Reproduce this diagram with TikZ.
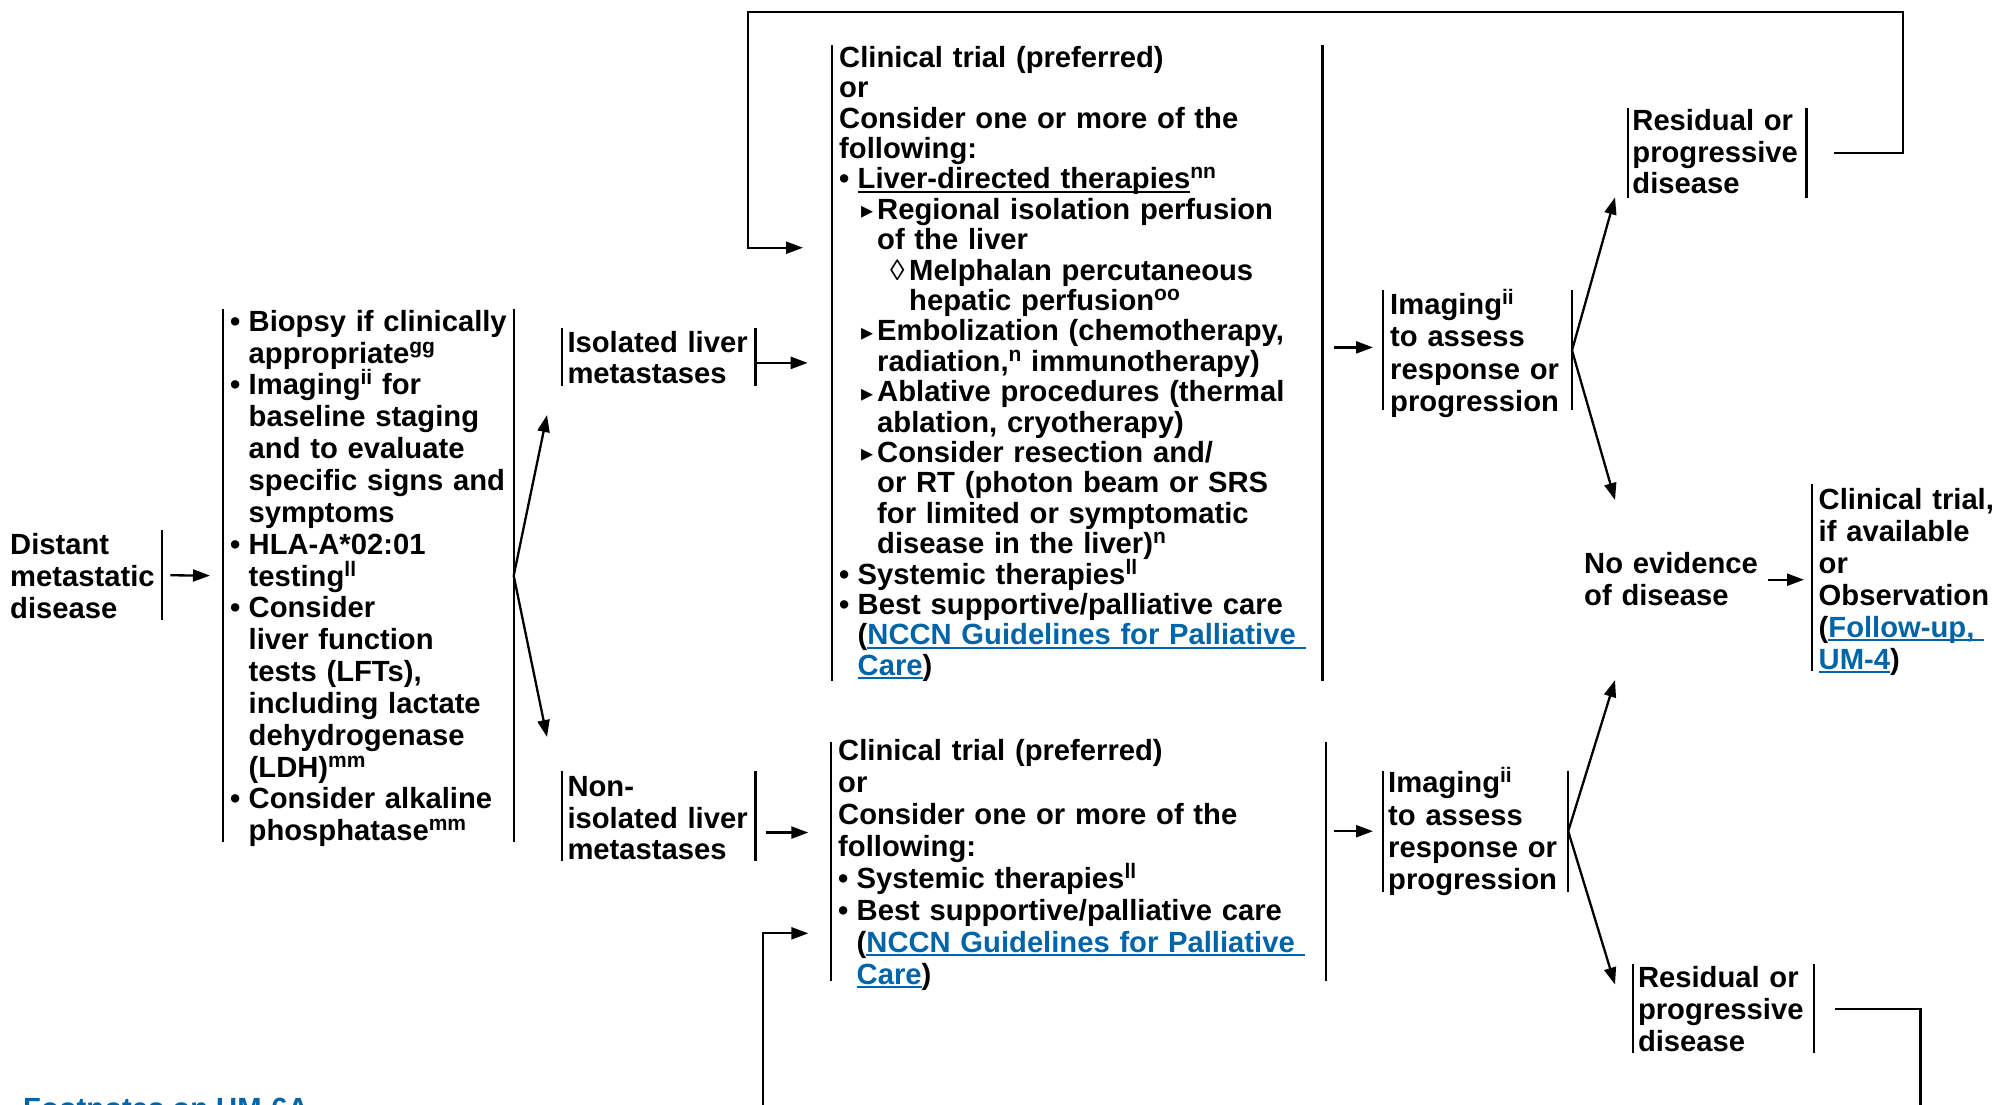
\documentclass[tikz,border=0pt]{standalone}
\usepackage{fontspec}
\setmainfont{Liberation Sans}
\newfontfamily\dvs{DejaVu Sans}
\usetikzlibrary{arrows.meta}
\definecolor{link}{RGB}{0,101,168}
\newcommand\spx[1]{\raisebox{0.34em}{\fontsize{21}{21}\selectfont #1}}
\newcommand\ulx[1]{\leavevmode\setbox0=\hbox{#1}\rlap{\rule[-3.8pt]{\wd0}{1.7pt}}\box0}
\newcommand\lk[1]{\leavevmode{\color{link}\ulx{#1}}}
\newcommand\bA{\makebox[18.5pt][l]{•}}
\newcommand\cA{\hspace*{18.5pt}}
\newcommand\bB{\hspace*{22pt}\makebox[16pt][l]{\raisebox{0.5pt}{\dvs\mdseries\fontsize{24}{24}\selectfont ▸}}}
\newcommand\cB{\hspace*{38pt}}
\newcommand\bC{\hspace*{51pt}\makebox[19pt][l]{\mdseries ◊}}
\newcommand\cC{\hspace*{70pt}}
\begin{document}
\begin{tikzpicture}[x=1pt,y=-1pt,
  bx/.style={inner sep=0pt, anchor=north west, align=left},
  lead/.style={font=\bfseries\fontsize{29.2}{#1}\selectfont},
  pad/.style={execute at begin node={\leftskip=#1\relax\rightskip=-40pt plus 1fil\relax\lineskiplimit=-60pt\relax}},
  barline/.style={draw, line width=2.2pt},
  bars/.style={append after command={(\tikzlastnode.north west) edge[barline] (\tikzlastnode.south west) (\tikzlastnode.north east) edge[barline] (\tikzlastnode.south east)}},
  rbar/.style={append after command={(\tikzlastnode.north east) edge[barline] (\tikzlastnode.south east)}},
  lbar/.style={append after command={(\tikzlastnode.north west) edge[barline] (\tikzlastnode.south west)}},
  arr/.style={draw, line width=2.3pt, -{Triangle[length=17pt,width=12pt]}}
]
\useasboundingbox (0,0) rectangle (1997,1104);
\clip (0,0) rectangle (1997,1104);

% nodes
\node[bx, lead=32, pad=0pt, rbar, text width=151.5, text height=24, text depth=66] (dist) at (10,530)
  {Distant\\metastatic\\disease};

\node[bx, lead=31.85, pad=7.3pt, bars, text width=290.6, text height=22, text depth=511] (b2) at (222.7,309)
  {\bA Biopsy if clinically\\
   \cA appropriate\spx{gg}\\
   \bA Imaging\spx{ii} for\\
   \cA baseline staging\\
   \cA and to evaluate\\
   \cA specific signs and\\
   \cA symptoms\\
   \bA HLA-A*02:01\\
   \cA testing\spx{ll}\\
   \bA Consider\\
   \cA liver function\\
   \cA tests (LFTs),\\
   \cA including lactate\\
   \cA dehydrogenase\\
   \cA (LDH)\spx{mm}\\
   \bA Consider alkaline\\
   \cA phosphatase\spx{mm}};

\node[bx, lead=31.5, pad=5pt, bars, text width=192.7, text height=24, text depth=34] (iso) at (562.3,328)
  {Isolated liver\\metastases};

\node[bx, lead=31.8, pad=5pt, bars, text width=192.7, text height=25, text depth=64.7] (niso) at (562.3,771)
  {Non-\\isolated liver\\metastases};

\node[bx, lead=30.4, pad=7.3pt, bars, text width=490.3, text height=22, text depth=614] (b3) at (831.7,45)
  {Clinical trial (preferred)\\
   or\\
   Consider one or more of the\\
   following:\\
   \bA\ulx{Liver-directed therapies}\spx{nn}\\
   \bB Regional isolation perfusion\\
   \cB of the liver\\
   \bC Melphalan percutaneous\\
   \cC hepatic perfusion\spx{oo}\\
   \bB Embolization (chemotherapy,\\
   \cB radiation,\spx{n} immunotherapy)\\
   \bB Ablative procedures (thermal\\
   \cB ablation, cryotherapy)\\
   \bB Consider resection and/\\
   \cB or RT (photon beam or SRS\\
   \cB for limited or symptomatic\\
   \cB disease in the liver)\spx{n}\\
   \bA Systemic therapies\spx{ll}\\
   \bA Best supportive/palliative care\\
   \cA(\lk{NCCN Guidelines for Palliative\ }\\
   \cA\lk{Care})};

\node[bx, lead=32, pad=7.3pt, bars, text width=495.1, text height=18.3, text depth=221] (b4) at (830.7,741.7)
  {Clinical trial (preferred)\\
   or\\
   Consider one or more of the\\
   following:\\
   \bA Systemic therapies\spx{ll}\\
   \bA Best supportive/palliative care\\
   \cA(\lk{NCCN Guidelines for Palliative\ }\\
   \cA\lk{Care})};

\node[bx, lead=32.2, pad=7pt, bars, text width=188.6, text height=24, text depth=95.6] (img1) at (1383,290.4)
  {Imaging\spx{ii}\\to assess\\response or\\progression};

\node[bx, lead=32.3, pad=5pt, bars, text width=184.8, text height=22, text depth=99] (img2) at (1383,770.5)
  {Imaging\spx{ii}\\to assess\\response or\\progression};

\node[bx, lead=31.8, pad=4.5pt, bars, text width=178.3, text height=22, text depth=67.4] (res1) at (1627.7,108)
  {Residual or\\progressive\\disease};

\node[bx, lead=32, pad=5pt, bars, text width=180.8, text height=23.5, text depth=65.5] (res2) at (1632.8,964)
  {Residual or\\progressive\\disease};

\node[bx, lead=31.8, pad=0pt, text width=172, text height=21, text depth=38.5] (ned) at (1584,552)
  {No evidence\\of disease};

\node[bx, lead=32, pad=6.5pt, lbar, text width=185, text height=25, text depth=162] (ct) at (1812,484)
  {Clinical trial,\\if available\\or\\Observation\\(\lk{Follow-up,\ }\\\lk{UM-4})};

\node[anchor=base west, inner sep=0pt, font=\bfseries\fontsize{29.2}{32}\selectfont, text=link] (fn) at (23,1118)
  {Footnotes on UM-6A};

% free ends
\coordinate (ta) at (547,415);
\coordinate (tb) at (547,737);
\coordinate (tc) at (1615,197.4);
\coordinate (td) at (1615,500);
\coordinate (te) at (1615,680);
\coordinate (tf) at (1615,984.5);
\coordinate (rt1) at (1903,11.7);
\coordinate (lt1) at (748,11.7);
\coordinate (in1) at (803,247.7);
\coordinate (rt2) at (1920.6,1130);
\coordinate (lt2) at (763.3,1130);
\coordinate (in2) at (808.3,933.3);

% connectors
\draw[arr, shorten <=8.5pt, shorten >=12.7pt] (dist.east) -- (b2.west);
\draw[arr] (b2.east) -- (ta);
\draw[arr] (b2.east) -- (tb);
\draw[arr, shorten >=24pt] ([yshift=-5.7pt]iso.east) -- ([yshift=-5.7pt]iso.east -| b3.west);
\draw[arr, shorten <=10.7pt, shorten >=22.4pt] ([yshift=-16.5pt]niso.east) -- ([yshift=-16.5pt]niso.east -| b4.west);
\draw[arr, shorten <=11.5pt, shorten >=10pt] ([yshift=3pt]img1.west -| b3.east) -- ([yshift=3pt]img1.west);
\draw[arr, shorten <=7.7pt, shorten >=10pt] (img2.west -| b4.east) -- (img2.west);
\draw[arr] (img1.east) -- (tc);
\draw[arr] (img1.east) -- (td);
\draw[arr] (img2.east) -- (te);
\draw[arr] (img2.east) -- (tf);
\draw[arr, shorten <=12pt, shorten >=8pt] ([yshift=-2pt]ct.west -| ned.east) -- ([yshift=-2pt]ct.west);
\draw[arr] ([xshift=28pt]res1.east) -| (rt1) -- (lt1) |- (in1);
\draw[arr] ([xshift=21pt]res2.east) -| (rt2) -- (lt2) |- (in2);
\end{tikzpicture}
\end{document}
